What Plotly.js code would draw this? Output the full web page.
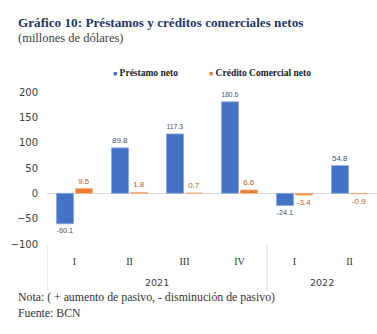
<!DOCTYPE html>
<html>
<head>
<meta charset="utf-8">
<script src="https://cdn.plot.ly/plotly-3.0.1.min.js"></script>
<style>
  html, body { margin: 0; padding: 0; background: #ffffff; }
  #chart { width: 377px; height: 334px; }
</style>
</head>
<body>
<div id="chart"></div>
<script>
// ---- Data ----
const quarters = ['I', 'II', 'III', 'IV', 'I', 'II'];
const quarterYear = ['2021', '2021', '2021', '2021', '2022', '2022'];
const years = ['2021', '2022'];
const seriesNames = ['Préstamo neto', 'Crédito Comercial neto'];
const prestamoNeto = [-60.1, 89.8, 117.3, 180.6, -24.1, 54.8];
const creditoComercialNeto = [9.5, 1.8, 0.7, 6.6, -3.4, -0.9];
const titleText = 'Gráfico 10: Préstamos y créditos comerciales netos';
const subtitleText = '(millones de dólares)';
const noteText = 'Nota: ( + aumento de pasivo, - disminución de pasivo)';
const sourceText = 'Fuente: BCN';

// ---- Styles ----
const blue = '#4472C4';
const orange = '#ED7D31';
const serif = 'Liberation Serif, Times New Roman, serif';
const idx = quarters.map((q, i) => i);

const traces = [
  {
    type: 'bar', name: seriesNames[0], x: idx, y: prestamoNeto,
    marker: { color: blue, line: { color: '#8EA9DB', width: 0.8 } },
    texttemplate: '%{y:.1f}', textposition: 'outside',
    textfont: { family: 'Liberation Sans, Arial, sans-serif', size: 8, color: '#44546A' },
    cliponaxis: false, hoverinfo: 'skip'
  },
  {
    type: 'bar', name: seriesNames[1], x: idx, y: creditoComercialNeto,
    marker: { color: orange, line: { color: '#F4B183', width: 0.8 } },
    texttemplate: '%{y:.1f}', textposition: 'outside',
    textfont: { family: 'Liberation Sans, Arial, sans-serif', size: 8, color: '#C65911' },
    cliponaxis: false, hoverinfo: 'skip'
  }
];

// year labels and divider lines derived from the quarter grouping
const annotations = [];
const shapes = [];
years.forEach(yr => {
  const members = idx.filter(i => quarterYear[i] === yr);
  const mid = members.reduce((a, b) => a + b, 0) / members.length;
  annotations.push({
    x: mid, xref: 'x', y: -0.25, yref: 'paper', text: yr, showarrow: false,
    xanchor: 'center', yanchor: 'middle',
    font: { family: 'DejaVu Sans, Verdana, sans-serif', size: 9.5, color: '#404040' }
  });
  shapes.push({
    type: 'line', xref: 'x', yref: 'paper', x0: members[0] - 0.5, x1: members[0] - 0.5,
    y0: 0, y1: -0.31, line: { color: '#D9D9D9', width: 1 }
  });
});

// legend as annotations (small squares like the reference)
const legendX = [0.194, 0.485];
const colors = [blue, orange];
seriesNames.forEach((n, i) => {
  annotations.push({
    x: legendX[i], xref: 'paper', y: 1.125, yref: 'paper', showarrow: false,
    xanchor: 'left', yanchor: 'middle',
    text: '<span style="color:' + colors[i] + ';font-size:7px">■</span> ' + n,
    font: { family: serif, size: 9.5, color: '#1a1a1a', weight: 600 }
  });
});

// notes
annotations.push({
  x: -0.094, xref: 'paper', y: -0.349, yref: 'paper', showarrow: false,
  xanchor: 'left', yanchor: 'middle', text: noteText,
  font: { family: serif, size: 11.8, color: '#333333' }
});
annotations.push({
  x: -0.094, xref: 'paper', y: -0.454, yref: 'paper', showarrow: false,
  xanchor: 'left', yanchor: 'middle', text: sourceText,
  font: { family: serif, size: 11.8, color: '#333333' }
});
// subtitle
annotations.push({
  x: -0.094, xref: 'paper', y: 1.355, yref: 'paper', showarrow: false,
  xanchor: 'left', yanchor: 'middle', text: subtitleText,
  font: { family: serif, size: 12.5, color: '#404040' }
});

const layout = {
  width: 377, height: 334,
  margin: { l: 47, r: 0, t: 92, b: 90 },
  paper_bgcolor: '#ffffff', plot_bgcolor: '#ffffff',
  showlegend: false,
  barmode: 'group', bargap: 0.31, bargroupgap: 0.1,
  title: {
    text: '<b>' + titleText + '</b>',
    xref: 'container', yref: 'container', x: 18 / 377, xanchor: 'left',
    y: 1 - 22 / 334, yanchor: 'middle',
    font: { family: serif, size: 13.2, color: '#1F3864' }
  },
  xaxis: {
    range: [-0.5, quarters.length - 0.5],
    tickmode: 'array', tickvals: idx, ticktext: quarters,
    ticks: 'outside', ticklen: 8, tickcolor: 'rgba(0,0,0,0)',
    showgrid: false, showline: false, zeroline: false,
    tickfont: { family: serif, size: 10, color: '#333333' }
  },
  yaxis: {
    range: [-100, 200], tickmode: 'array', tickvals: [-100, -50, 0, 50, 100, 150, 200],
    ticks: 'outside', ticklen: 6, tickcolor: 'rgba(0,0,0,0)',
    showgrid: false, showline: false,
    zeroline: true, zerolinecolor: '#D9D9D9', zerolinewidth: 1.5,
    tickfont: { family: 'DejaVu Sans, Verdana, sans-serif', size: 10, color: '#404040' }
  },
  annotations: annotations,
  shapes: shapes
};

Plotly.newPlot('chart', traces, layout, { staticPlot: true, displayModeBar: false });
</script>
</body>
</html>
